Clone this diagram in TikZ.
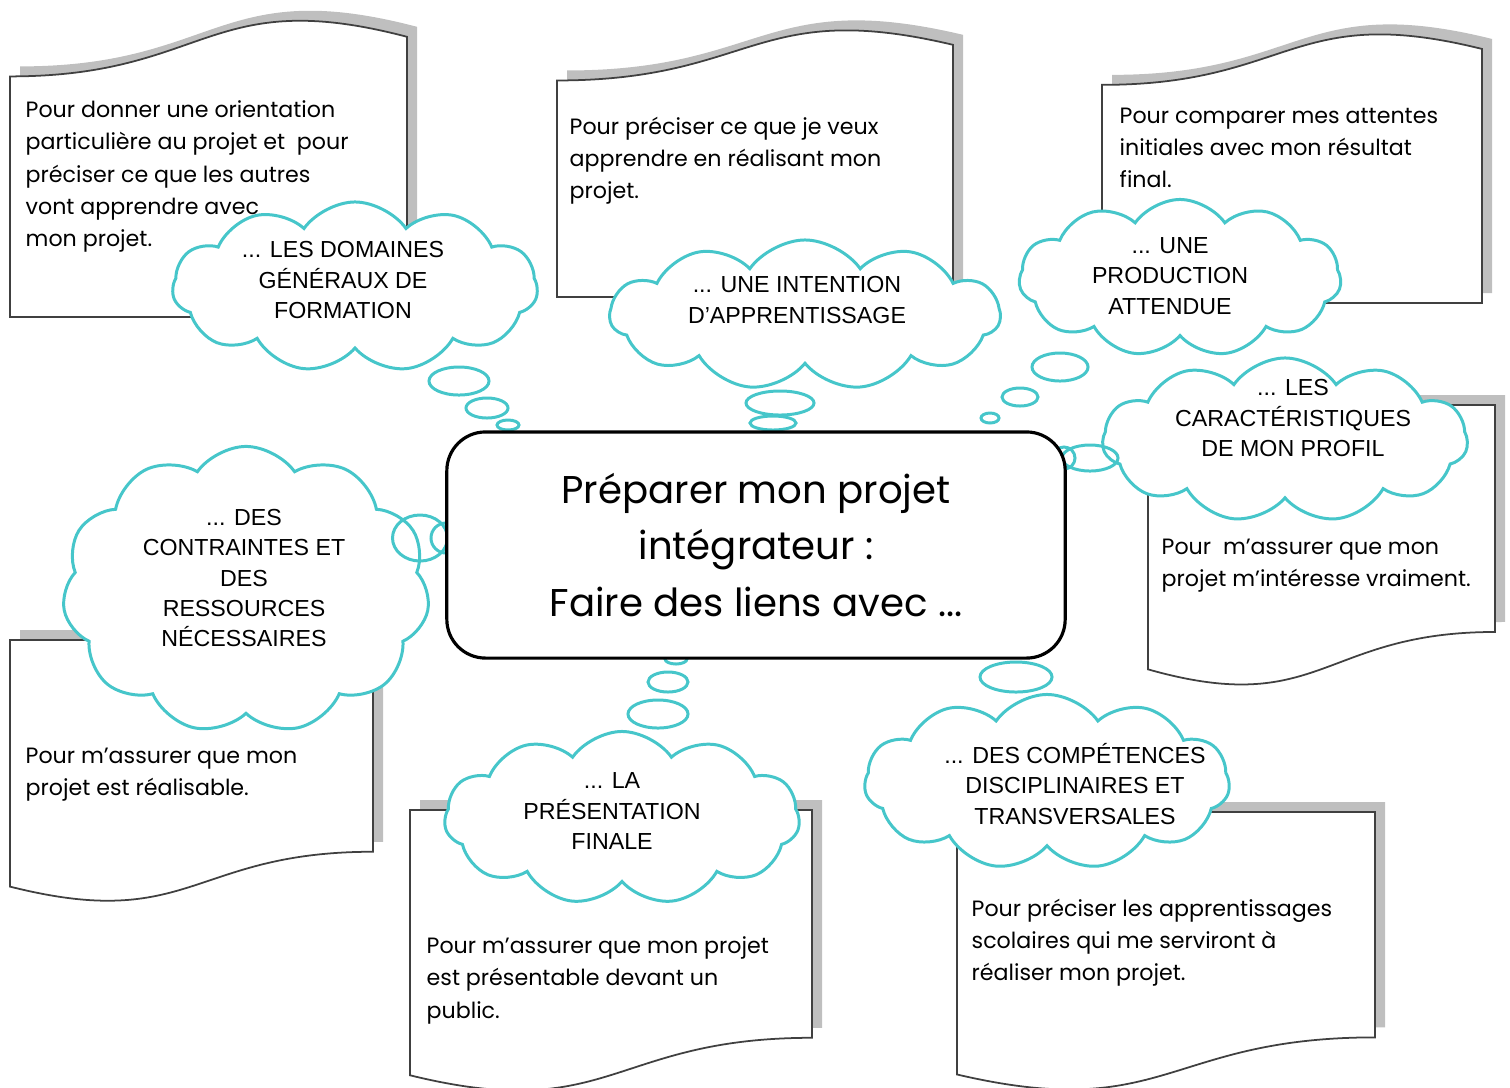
\documentclass[tikz,border=0pt]{standalone}
\usepackage{fontspec}
\newfontfamily\docfont{Poppins}
\newfontfamily\cloudfont{Liberation Sans}
\usetikzlibrary{shapes.symbols,shapes.geometric}

\definecolor{cloudteal}{RGB}{70,198,202}
\definecolor{docgray}{RGB}{191,191,191}
\definecolor{docedge}{RGB}{64,64,64}

\tikzset{
    docshadow/.style={fill=docgray},
    docline/.style={draw=docedge, fill=white, line width=0.5pt},
    doctext/.style={anchor=north west, inner sep=0pt, align=left,
        font=\docfont\fontsize{6.3}{9.2}\selectfont},
    thought/.style={cloud, cloud puffs=11, cloud puff arc=110, cloud ignores aspect,
        draw=cloudteal, fill=white, line width=0.85pt},
    thoughttext/.style={align=center, inner sep=0pt,
        font=\cloudfont\fontsize{6.6}{8.6}\selectfont},
    bubble/.style={ellipse, draw=cloudteal, line width=0.85pt, inner sep=0pt},
    titlebox/.style={draw, line width=0.9pt, rounded corners=11pt, fill=white,
        minimum width=6.18cm, minimum height=2.26cm, align=center,
        font=\docfont\fontsize{11}{16.2}\selectfont}
}

% x0, y0, width, height (wave on top)
\newcommand{\topdoc}[4]{%
    \fill[docshadow] ({#1+10},{#2+#4-10}) -- ({#1+10},{#2+0.198*#4-10})
        .. controls ({#1+0.5*#3+10},{#2+0.198*#4-10}) and ({#1+0.5*#3+10},{#2-0.108*#4-10})
        .. ({#1+#3+10},{#2+0.066*#4-10}) -- ({#1+#3+10},{#2+#4-10}) -- cycle;
    \draw[docline] (#1,{#2+#4}) -- (#1,{#2+0.198*#4})
        .. controls ({#1+0.5*#3},{#2+0.198*#4}) and ({#1+0.5*#3},{#2-0.108*#4})
        .. ({#1+#3},{#2+0.066*#4}) -- ({#1+#3},{#2+#4}) -- cycle;
}
% x0, y0, width, height (wave at the bottom)
\newcommand{\bottomdoc}[4]{%
    \fill[docshadow] ({#1+10},{#2-10}) -- ({#1+#3+10},{#2-10}) -- ({#1+#3+10},{#2+0.802*#4-10})
        .. controls ({#1+0.5*#3+10},{#2+0.802*#4-10}) and ({#1+0.5*#3+10},{#2+1.108*#4-10})
        .. ({#1+10},{#2+0.934*#4-10}) -- cycle;
    \draw[docline] (#1,#2) -- ({#1+#3},#2) -- ({#1+#3},{#2+0.802*#4})
        .. controls ({#1+0.5*#3},{#2+0.802*#4}) and ({#1+0.5*#3},{#2+1.108*#4})
        .. (#1,{#2+0.934*#4}) -- cycle;
}

\begin{document}
\begin{tikzpicture}[x=0.01cm, y=-0.01cm]
    \useasboundingbox (0,0) rectangle (1510,1087);

    \topdoc{10}{17}{397}{300}
    \topdoc{557}{27}{396}{270}
    \topdoc{1102}{31}{380}{272}
    \bottomdoc{1148}{405}{347}{283}
    \bottomdoc{10}{640}{363}{264}
    \bottomdoc{410}{810}{402}{284}
    \bottomdoc{957}{812}{418}{281}

    \node[doctext] (tDomaines) at (25,100) {Pour donner une orientation\\particulière au projet et \ pour\\préciser ce que les autres\\vont apprendre avec\\mon projet.};
    \node[doctext] (tIntention) at (569,116) {Pour préciser ce que je veux\\apprendre en réalisant mon\\projet.};
    \node[doctext] (tProduction) at (1119,107) {Pour comparer mes attentes\\initiales avec mon résultat\\final.};
    \node[doctext] (tProfil) at (1161,538) {Pour \ m’assurer que mon\\projet m’intéresse vraiment.};
    \node[doctext] (tContraintes) at (25,747) {Pour m’assurer que mon\\projet est réalisable.};
    \node[doctext] (tPresentation) at (426,936) {Pour m’assurer que mon projet\\est présentable devant un\\public.};
    \node[doctext] (tCompetences) at (971,898) {Pour préciser les apprentissages\\scolaires qui me serviront à\\réaliser mon projet.};

    \node[thought, minimum width=3.65cm, minimum height=1.7cm] (cDomaines) at (355,287) {};
    \node[thought, minimum width=3.9cm, minimum height=1.5cm] (cIntention) at (805,315) {};
    \node[thought, minimum width=3.22cm, minimum height=1.57cm] (cProduction) at (1180,278) {};
    \node[thought, minimum width=3.65cm, minimum height=1.64cm] (cProfil) at (1285,440) {};
    \node[thought, minimum width=3.67cm, minimum height=2.87cm] (cContraintes) at (246,590) {};
    \node[thought, minimum width=3.55cm, minimum height=1.73cm] (cPresentation) at (622,818) {};
    \node[thought, minimum width=3.65cm, minimum height=1.75cm] (cCompetences) at (1047,782) {};

    \node[thoughttext] (lDomaines) at (343,280) {... LES DOMAINES\\GÉNÉRAUX DE\\FORMATION};
    \node[thoughttext] (lIntention) at (797,300) {... UNE INTENTION\\D’APPRENTISSAGE};
    \node[thoughttext] (lProduction) at (1170,276) {... UNE\\PRODUCTION\\ATTENDUE};
    \node[thoughttext] (lProfil) at (1293,418) {... LES\\CARACTÉRISTIQUES\\DE MON PROFIL};
    \node[thoughttext] (lContraintes) at (244,578) {... DES\\CONTRAINTES ET\\DES\\RESSOURCES\\NÉCESSAIRES};
    \node[thoughttext] (lPresentation) at (612,811) {... LA\\PRÉSENTATION\\FINALE};
    \node[thoughttext] (lCompetences) at (1075,784) {... DES COMPÉTENCES\\DISCIPLINAIRES ET\\TRANSVERSALES};

    \node[bubble, minimum width=0.6cm, minimum height=0.28cm] (bDomaines1) at (459,381) {};
    \node[bubble, minimum width=0.42cm, minimum height=0.2cm] (bDomaines2) at (487,408) {};
    \node[bubble, minimum width=0.22cm, minimum height=0.1cm] (bDomaines3) at (508,425) {};
    \node[bubble, minimum width=0.68cm, minimum height=0.24cm] (bIntention1) at (780,403) {};
    \node[bubble, minimum width=0.46cm, minimum height=0.14cm] (bIntention2) at (773,423) {};
    \node[bubble, minimum width=0.56cm, minimum height=0.28cm] (bProduction1) at (1060,367) {};
    \node[bubble, minimum width=0.36cm, minimum height=0.18cm] (bProduction2) at (1020,397) {};
    \node[bubble, minimum width=0.18cm, minimum height=0.1cm] (bProduction3) at (990,418) {};
    \node[bubble, minimum width=0.56cm, minimum height=0.26cm] (bProfil1) at (1090,458) {};
    \node[bubble, minimum width=0.22cm, minimum height=0.22cm] (bProfil2) at (1064,458) {};
    \node[bubble, minimum width=0.55cm, minimum height=0.46cm] (bContraintes1) at (420,538) {};
    \node[bubble, minimum width=0.3cm, minimum height=0.3cm] (bContraintes2) at (446,538) {};
    \node[bubble, minimum width=0.22cm, minimum height=0.1cm] (bPresentation1) at (676,659) {};
    \node[bubble, minimum width=0.4cm, minimum height=0.2cm] (bPresentation2) at (668,682) {};
    \node[bubble, minimum width=0.6cm, minimum height=0.28cm] (bPresentation3) at (658,714) {};
    \node[bubble, minimum width=0.72cm, minimum height=0.3cm] (bCompetences1) at (1016,677) {};

    \node[titlebox] (title) at (756,545) {Préparer mon projet\\intégrateur :\\Faire des liens avec ...};
\end{tikzpicture}
\end{document}
